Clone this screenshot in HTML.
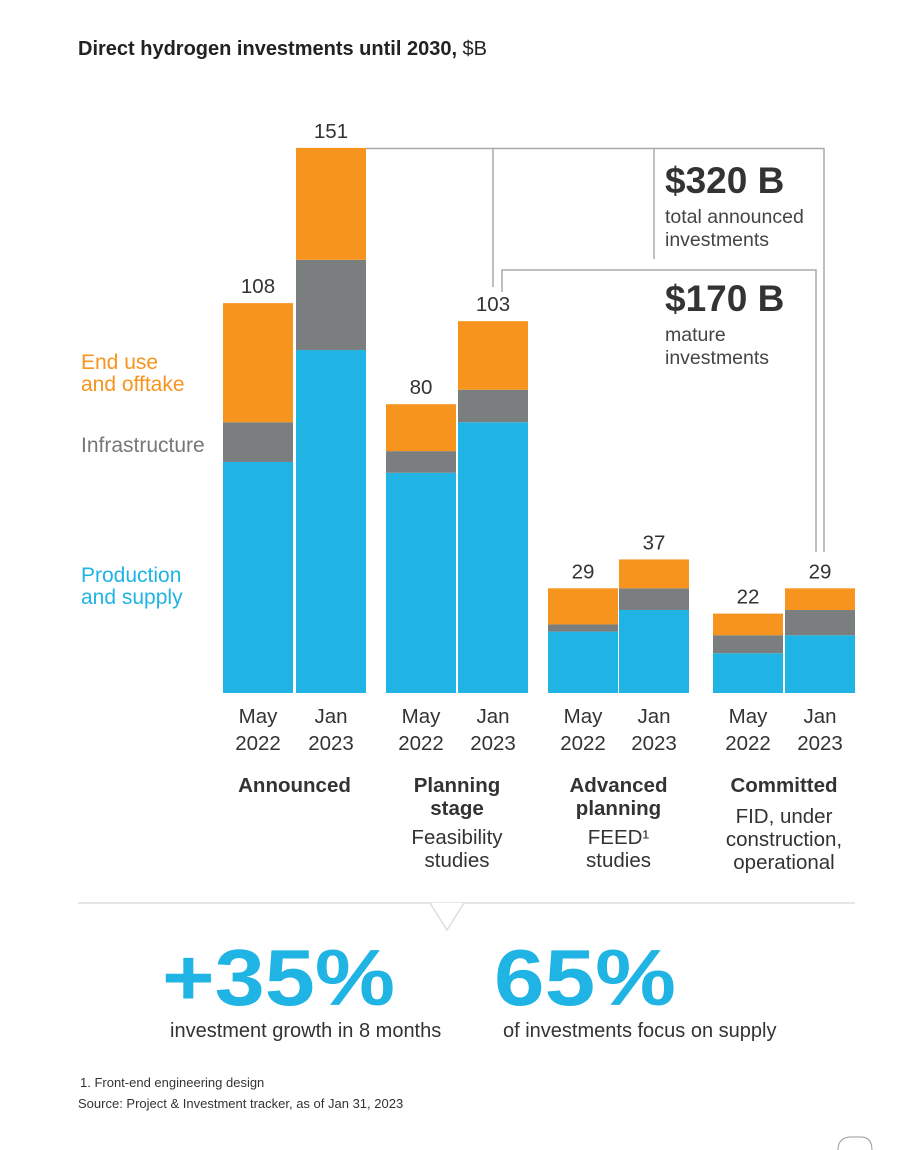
<!DOCTYPE html>
<html><head><meta charset="utf-8"><style>
body{margin:0;background:#fff;width:898px;height:1150px;overflow:hidden;font-family:"Liberation Sans",sans-serif;}
svg{position:absolute;left:0;top:0}
</style></head><body>
<svg width="898" height="1150">
<text x="78" y="55" font-size="20" fill="#222"><tspan font-weight="bold">Direct hydrogen investments until 2030,</tspan> $B</text>
<g id="bars"></g>
<g stroke="#aaa" stroke-width="1.5" fill="none">
<polyline points="366,148.5 824,148.5 824,552"/>
<line x1="493" y1="148.5" x2="493" y2="287"/>
<line x1="654" y1="148.5" x2="654" y2="259"/>
<polyline points="502,292 502,270 816,270 816,552"/>
</g>
<text x="665" y="193" font-size="37" font-weight="bold" fill="#333">$320 B</text>
<text x="665" y="223" font-size="19.5" fill="#444">total announced</text>
<text x="665" y="246" font-size="19.5" fill="#444">investments</text>
<text x="665" y="311" font-size="37" font-weight="bold" fill="#333">$170 B</text>
<text x="665" y="341" font-size="19.5" fill="#444">mature</text>
<text x="665" y="364" font-size="19.5" fill="#444">investments</text>
<g font-size="21">
<text x="81" y="369" fill="#f7941d">End use</text>
<text x="81" y="391" fill="#f7941d">and offtake</text>
<text x="81" y="452" fill="#777">Infrastructure</text>
<text x="81" y="582" fill="#1fb4e3">Production</text>
<text x="81" y="604" fill="#1fb4e3">and supply</text>
</g>
<g id="labels" font-size="20.5" fill="#333" text-anchor="middle"></g>
<line x1="78" y1="903" x2="855" y2="903" stroke="#ddd" stroke-width="1.5"/>
<polyline points="430,903 447,930 464,903" fill="#fff" stroke="#ddd" stroke-width="1.5"/>
<text x="162" y="1005" font-size="80" font-weight="bold" fill="#1fb4e3" textLength="233" lengthAdjust="spacingAndGlyphs">+35%</text>
<text x="170" y="1037" font-size="20" fill="#333">investment growth in 8 months</text>
<text x="494" y="1005" font-size="80" font-weight="bold" fill="#1fb4e3" textLength="182" lengthAdjust="spacingAndGlyphs">65%</text>
<text x="503" y="1037" font-size="20" fill="#333">of investments focus on supply</text>
<text x="80" y="1087" font-size="13" fill="#333">1.   Front-end engineering design</text>
<text x="78" y="1108" font-size="13" fill="#333">Source: Project &amp; Investment tracker, as of Jan 31, 2023</text>
<path d="M838,1150 Q838,1138 850,1137 L862,1137 Q872,1138 872,1150" fill="none" stroke="#999" stroke-width="1"/>
</svg>
<script>
const prod=[64,95,61,75,17,23,11,16];
const infra=[11,25,6,9,2,6,5,7];
const endUse=[33,31,13,19,10,8,6,6];
const totals=["108","151","80","103","29","37","22","29"];
const groups=["Announced","Planning|stage","Advanced|planning","Committed"];
const subs=["","Feasibility|studies","FEED¹|studies","FID, under|construction,|operational"];
const barX=[223,296,386,458,548,619,713,785];
const base=693, k=3.61, w=70;
const y=v=>base-v*k;
const NS="http://www.w3.org/2000/svg";
const g=document.getElementById('bars'), L=document.getElementById('labels');
function rect(x,y0,h,c,n){const r=document.createElementNS(NS,'rect');r.setAttribute('x',x);r.setAttribute('y',y0);r.setAttribute('width',w);r.setAttribute('height',h);r.setAttribute('fill',c);


g.appendChild(r);}
function txt(p,x,yy,s,attrs){const t=document.createElementNS(NS,'text');t.setAttribute('x',x);t.setAttribute('y',yy);t.textContent=s;for(const a in attrs)t.setAttribute(a,attrs[a]);p.appendChild(t);return t;}
for(let i=0;i<8;i++){
 const x=barX[i];
 const a=prod[i],b=a+infra[i],c=b+endUse[i];
 rect(x,y(a),a*k,'#1fb4e3','bar-production');
 rect(x,y(b),infra[i]*k,'#7b7e7f','bar-infrastructure');
 rect(x,y(c),endUse[i]*k,'#f7941d','bar-end-use');
 const t=txt(L,x+w/2,y(c)-10,totals[i],{});
 
 
 txt(L,x+w/2,723,i%2?"Jan":"May",{});
 txt(L,x+w/2,750,i%2?"2023":"2022",{});
}
for(let j=0;j<4;j++){
 const cx=(barX[2*j]+barX[2*j+1]+w)/2;
 const gl=groups[j].split('|');
 gl.forEach((s,m)=>{const t=txt(L,cx,792+m*23,s,{'font-weight':'bold'});
 
 });
 const sl=subs[j].split('|');
 const sy=792+gl.length*23+(j==3?0:2);
 if(subs[j]) sl.forEach((s,m)=>txt(L,cx,(j==3?823:sy+4)+m*23,s,{}));
}
</script>
</body></html>
